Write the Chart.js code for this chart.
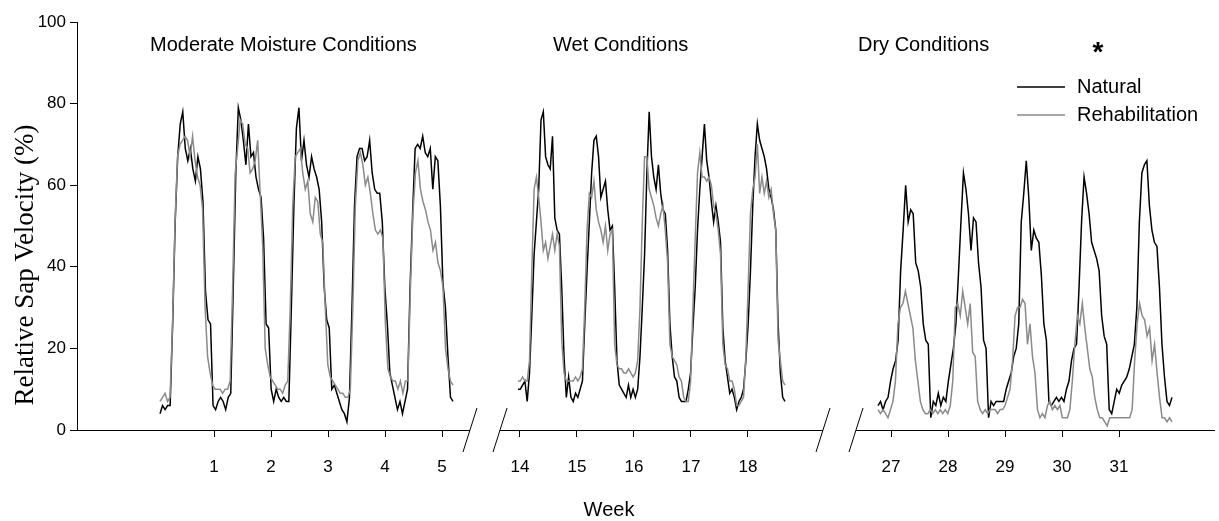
<!DOCTYPE html>
<html>
<head>
<meta charset="utf-8">
<script src="https://cdn.jsdelivr.net/npm/chart.js@4.4.1/dist/chart.umd.min.js"></script>
<style>
  html, body { margin: 0; padding: 0; background: #fff; }
  #wrap { width: 1219px; height: 521px; }
</style>
</head>
<body>
<div id="wrap"><canvas id="myCanvas"></canvas></div>
<script>
// week labels of each panel and the panel headings
const weeks = [[1, 2, 3, 4, 5], [14, 15, 16, 17, 18], [27, 28, 29, 30, 31]];
const conditions = ["Moderate Moisture Conditions", "Wet Conditions", "Dry Conditions"];
const seriesNames = ["Natural", "Rehabilitation"];

// moderate moisture (hourly readings)
const natural1 = [4, 6, 5, 6, 6, 26, 51, 67, 75, 78, 69, 66, 69, 64, 61, 67, 64, 56, 34, 27, 26, 6, 5, 7, 8, 7, 5, 8, 9, 35, 63,
  79, 76, 71, 65, 75, 67, 68, 62, 59, 57, 47, 26, 25, 10, 7, 10, 8, 7, 8, 7, 7, 30, 55, 74, 79, 66, 71, 65, 62, 67, 64,
  62, 59, 51, 35, 27, 25, 10, 11, 9, 7, 5, 4, 2, 8, 30, 55, 67, 69, 69, 66, 67, 71, 63, 59, 58, 58, 51, 35, 26, 14, 11,
  8, 5, 7, 4, 7, 10, 35, 53, 69, 70, 69, 72, 68, 67, 69, 59, 67, 66, 55, 36, 30, 18, 8, 7];
const rehab1 = [7, 8, 9, 7, 8, 26, 51, 67, 70, 71, 72, 71, 67, 72, 66, 62, 60, 54, 30, 18, 14, 11, 10, 10, 10, 9, 10, 10, 12, 35, 63,
  69, 76, 75, 70, 69, 63, 64, 66, 71, 58, 45, 20, 16, 13, 12, 11, 10, 10, 9, 11, 12, 30, 55, 67, 68, 69, 63, 59, 61, 53,
  51, 57, 56, 48, 46, 30, 16, 13, 12, 11, 10, 9, 9, 8, 8, 10, 30, 55, 66, 68, 65, 60, 62, 58, 53, 49, 48, 49, 47, 26, 15,
  13, 12, 12, 10, 12, 9, 12, 12, 35, 53, 63, 66, 59, 56, 54, 51, 49, 44, 46, 41, 39, 35, 20, 15, 12, 11];

// wet
const natural2 = [10, 10, 11, 12, 7, 14, 28, 43, 51, 59, 76, 78, 67, 65, 64, 72, 52, 49, 48, 35, 18, 8, 13, 8, 7, 9, 8, 10, 12,
  26, 39, 51, 63, 71, 72, 67, 57, 59, 61, 54, 49, 50, 35, 17, 11, 10, 9, 8, 11, 8, 10, 8, 10, 18, 30, 43, 63, 78, 67, 62,
  59, 65, 58, 54, 53, 44, 26, 18, 13, 12, 8, 7, 7, 7, 10, 14, 25, 35, 49, 59, 67, 75, 66, 62, 56, 51, 55, 51, 46, 25, 17,
  13, 9, 10, 8, 5, 7, 8, 10, 17, 26, 39, 55, 67, 75, 71, 69, 67, 64, 59, 57, 54, 49, 26, 14, 8, 7];
const rehab2 = [12, 12, 13, 12, 12, 17, 39, 59, 62, 57, 51, 44, 46, 42, 45, 48, 44, 48, 45, 22, 14, 12, 12, 12, 12, 13, 12, 13, 15,
  30, 49, 58, 57, 61, 54, 51, 49, 46, 50, 44, 48, 49, 21, 16, 15, 15, 14, 14, 15, 14, 13, 14, 17, 30, 51, 67, 67, 59, 57,
  55, 52, 50, 53, 55, 49, 41, 21, 18, 17, 16, 13, 12, 8, 7, 7, 12, 30, 47, 63, 68, 62, 62, 61, 62, 60, 55, 53, 49, 43, 21,
  16, 15, 12, 12, 10, 6, 6, 7, 8, 18, 35, 53, 59, 62, 70, 58, 62, 58, 61, 57, 59, 53, 49, 22, 17, 12, 11];

// dry
const natural3 = [6, 7, 5, 7, 8, 12, 15, 17, 22, 39, 49, 60, 51, 54, 53, 41, 39, 35, 26, 22, 21, 3, 7, 6, 9, 6, 8, 7, 12, 16, 20,
  26, 38, 51, 63, 59, 53, 44, 52, 51, 41, 35, 22, 20, 3, 7, 6, 7, 7, 7, 7, 10, 12, 14, 18, 20, 26, 51, 58, 66, 57, 44,
  49, 47, 46, 38, 26, 22, 7, 6, 7, 8, 7, 8, 7, 10, 12, 17, 20, 21, 35, 51, 62, 58, 53, 46, 44, 42, 39, 28, 23, 21, 5, 4,
  7, 10, 9, 11, 12, 13, 15, 18, 21, 30, 51, 63, 65, 66, 55, 49, 46, 45, 35, 21, 13, 7, 6, 8];
const rehab3 = [5, 4, 5, 4, 3, 5, 7, 12, 26, 30, 31, 34, 31, 28, 25, 17, 12, 7, 5, 4, 4, 5, 4, 5, 4, 5, 4, 5, 4, 6, 12, 30,
  31, 28, 34, 30, 26, 31, 19, 18, 7, 5, 4, 5, 4, 5, 5, 5, 4, 5, 5, 6, 8, 10, 17, 28, 30, 30, 32, 31, 21, 26, 18, 14, 5, 3,
  4, 3, 6, 7, 5, 6, 5, 6, 3, 3, 3, 5, 12, 21, 28, 26, 31, 25, 20, 15, 13, 8, 5, 3, 3, 2, 1, 3, 3, 3, 3, 3, 3, 3, 3, 3, 5,
  17, 26, 31, 28, 27, 23, 25, 17, 21, 14, 8, 3, 3, 2, 3, 2];

const naturalSets = [natural1, natural2, natural3];
const rehabSets = [rehab1, rehab2, rehab3];

// broken axis: one continuous scale, each panel slid left by its shift
const panelShift = [0, 7.632, 14.123];
// where each record starts (days from first labelled tick) and how long it spans
const recStart = [-0.947, -0.035, -0.228];
const recSpan = [5.14, 4.684, 5.158];
const axisMin = -1.4035;
const axisMax = 18.561;
const breaks = [5.491, 6.018, 11.684, 12.263];

function points(values, p) {
  const u0 = weeks[p][0] - panelShift[p] + recStart[p];
  const step = recSpan[p] / (values.length - 1);
  return values.map((v, i) => ({ x: u0 + i * step, y: v }));
}

const tickValues = [];
const tickLabels = {};
weeks.forEach((ws, p) => ws.forEach(w => {
  const u = +(w - panelShift[p]).toFixed(3);
  tickValues.push(u);
  tickLabels[u] = String(w);
}));

const datasets = [];
for (let p = 0; p < 3; p++) {
  datasets.push({
    label: seriesNames[0], data: points(naturalSets[p], p),
    borderColor: "#000000", borderWidth: 1.5, pointRadius: 0, tension: 0, order: 2
  });
}
for (let p = 0; p < 3; p++) {
  datasets.push({
    label: seriesNames[1], data: points(rehabSets[p], p),
    borderColor: "#8a8a8a", borderWidth: 1.5, pointRadius: 0, tension: 0, order: 1
  });
}

const sans = "Arial, 'Liberation Sans', sans-serif";

const decorations = {
  id: "decorations",
  afterDraw(chart) {
    const ctx = chart.ctx;
    const xs = chart.scales.x;
    const y0 = chart.scales.y.getPixelForValue(0);
    ctx.save();
    ctx.strokeStyle = "#000";
    ctx.lineWidth = 1;

    // x axis segments with break marks
    const segs = [[axisMin, breaks[0]], [breaks[1], breaks[2]], [breaks[3], axisMax]];
    segs.forEach(s => {
      ctx.beginPath();
      ctx.moveTo(xs.getPixelForValue(s[0]), y0 + 0.5);
      ctx.lineTo(xs.getPixelForValue(s[1]), y0 + 0.5);
      ctx.stroke();
    });
    breaks.forEach(b => {
      const bx = xs.getPixelForValue(b);
      ctx.beginPath();
      ctx.moveTo(bx - 7, y0 + 22);
      ctx.lineTo(bx + 7, y0 - 22);
      ctx.stroke();
    });

    // panel headings
    ctx.fillStyle = "#000";
    ctx.font = "20px " + sans;
    ctx.textBaseline = "middle";
    ctx.textAlign = "left";
    const headX = [150, 553, 858];
    conditions.forEach((c, i) => ctx.fillText(c, headX[i], 45));
    ctx.font = "bold 28px " + sans;
    ctx.textAlign = "center";
    ctx.fillText("*", 1098, 53);

    // legend
    ctx.font = "20px " + sans;
    ctx.textAlign = "left";
    const legY = [87, 115];
    ["#000000", "#8a8a8a"].forEach((col, i) => {
      ctx.strokeStyle = col;
      ctx.lineWidth = 1.5;
      ctx.beginPath();
      ctx.moveTo(1017, legY[i]);
      ctx.lineTo(1065, legY[i]);
      ctx.stroke();
      ctx.fillText(seriesNames[i], 1077, legY[i]);
    });

    // axis titles
    ctx.font = "20px " + sans;
    ctx.textAlign = "center";
    ctx.fillText("Week", 609, 510);
    ctx.translate(26, 265);
    ctx.rotate(-Math.PI / 2);
    ctx.font = "27px 'Liberation Serif', 'Times New Roman', serif";
    ctx.fillText("Relative Sap Velocity (%)", 0, 0);
    ctx.restore();
  }
};

new Chart(document.getElementById("myCanvas"), {
  type: "line",
  data: { datasets: datasets },
  options: {
    responsive: true,
    maintainAspectRatio: false,
    animation: false,
    layout: { padding: { top: 22, right: 4, left: 0, bottom: 0 } },
    plugins: { legend: { display: false }, tooltip: { enabled: false } },
    scales: {
      x: {
        type: "linear",
        min: axisMin,
        max: axisMax,
        afterBuildTicks: scale => { scale.ticks = tickValues.map(v => ({ value: v })); },
        afterFit: scale => { scale.height = 91; },
        ticks: {
          callback: v => tickLabels[+v.toFixed(3)] || "",
          autoSkip: false,
          maxRotation: 0,
          color: "#000",
          font: { family: sans, size: 17 },
          padding: 20
        },
        grid: { drawOnChartArea: false, drawTicks: true, tickLength: 7, color: "#000", lineWidth: 1 },
        border: { display: false }
      },
      y: {
        min: 0,
        max: 100,
        afterFit: scale => { scale.width = 77; },
        ticks: { stepSize: 20, color: "#000", font: { family: sans, size: 17 }, padding: 4 },
        grid: { drawOnChartArea: false, drawTicks: true, tickLength: 7, color: "#000", lineWidth: 1 },
        border: { display: true, color: "#000", width: 1 }
      }
    }
  },
  plugins: [decorations]
});
</script>
</body>
</html>
